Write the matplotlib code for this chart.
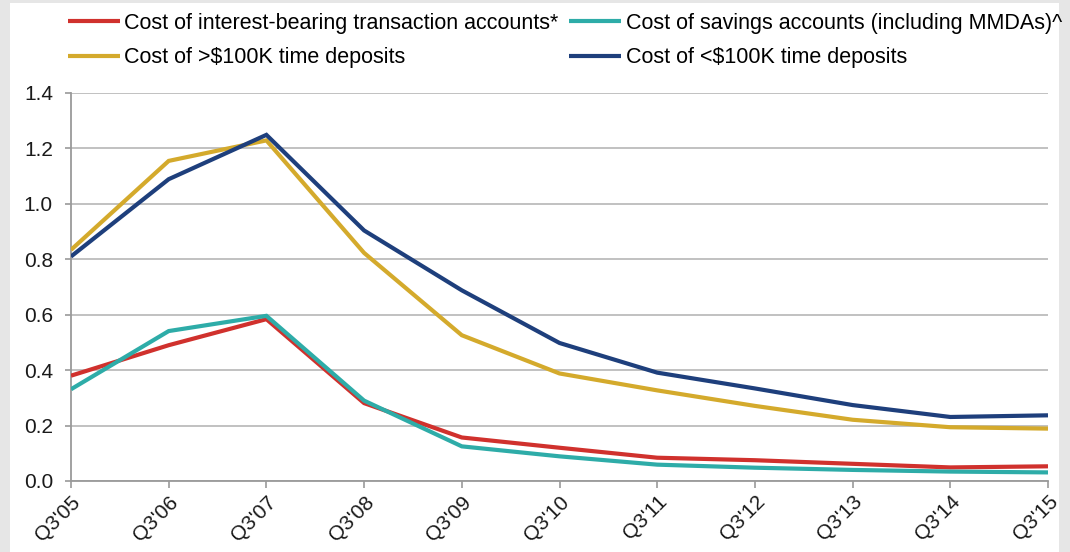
import matplotlib

matplotlib.use("Agg")
import matplotlib.pyplot as plt
from matplotlib.patches import Rectangle

plt.rcParams["font.family"] = ["Liberation Sans", "DejaVu Sans"]

quarters = ["Q3'05", "Q3'06", "Q3'07", "Q3'08", "Q3'09", "Q3'10",
            "Q3'11", "Q3'12", "Q3'13", "Q3'14", "Q3'15"]

transaction = [0.38, 0.49, 0.584, 0.281, 0.157, 0.12, 0.084, 0.075, 0.062, 0.049, 0.053]
savings = [0.331, 0.541, 0.596, 0.29, 0.125, 0.089, 0.059, 0.048, 0.040, 0.034, 0.031]
time_over = [0.834, 1.155, 1.229, 0.823, 0.526, 0.388, 0.327, 0.271, 0.221, 0.194, 0.189]
time_under = [0.81, 1.089, 1.249, 0.904, 0.688, 0.498, 0.391, 0.334, 0.274, 0.231, 0.237]

labels = [
    "Cost of interest-bearing transaction accounts*",
    "Cost of savings accounts (including MMDAs)^",
    "Cost of >$100K time deposits",
    "Cost of <$100K time deposits",
]
colors = ["#d0312d", "#2eaca8", "#d4aa2c", "#1e3f7c"]

fig = plt.figure(figsize=(10.7, 5.52), dpi=100, facecolor="#e6e6e6")
fig.patches.append(Rectangle((10 / 1070, 0), 1049 / 1070, 549 / 552,
                             transform=fig.transFigure, facecolor="white",
                             edgecolor="none", zorder=-1))

ax = fig.add_axes([71 / 1070, 71 / 552, 977 / 1070, 388 / 552])
ax.set_facecolor("white")

x = list(range(len(quarters)))
handles = []
for series, label, color in zip([transaction, savings, time_over, time_under], labels, colors):
    (ln,) = ax.plot(x, series, color=color, lw=3.0, label=label,
                    solid_joinstyle="miter", solid_capstyle="butt", zorder=3)
    handles.append(ln)

ax.set_xlim(0, len(quarters) - 1)
ax.set_ylim(0, 1.4)
ax.set_yticks([0.0, 0.2, 0.4, 0.6, 0.8, 1.0, 1.2, 1.4])
ax.set_yticklabels([f"{v:.1f}" for v in ax.get_yticks()])
ax.set_xticks(x)
ax.set_xticklabels(quarters, rotation=45, ha="right", rotation_mode="anchor")

ax.grid(axis="y", color="#bcbcbc", lw=1.3)
ax.set_axisbelow(True)
for side in ("top", "right"):
    ax.spines[side].set_visible(False)
for side in ("left", "bottom"):
    ax.spines[side].set_color("#9a9a9a")
    ax.spines[side].set_linewidth(1.3)
ax.tick_params(axis="y", length=4, width=1.2, color="#9a9a9a", pad=9,
               labelsize=15, labelcolor="#1a1a1a")
ax.tick_params(axis="x", length=5, width=1.2, color="#9a9a9a", pad=3,
               labelsize=15, labelcolor="#1a1a1a")

order = [0, 2, 1, 3]
fig.legend([handles[i] for i in order], [labels[i] for i in order],
           ncol=2, loc="upper left", bbox_to_anchor=(68 / 1070, 1 - 13 / 552),
           frameon=False, fontsize=15.5, handlelength=2.4, handletextpad=0.22,
           columnspacing=0.5, labelspacing=0.62, borderaxespad=0, borderpad=0)

fig.savefig("out.png", dpi=100, facecolor=fig.get_facecolor())
